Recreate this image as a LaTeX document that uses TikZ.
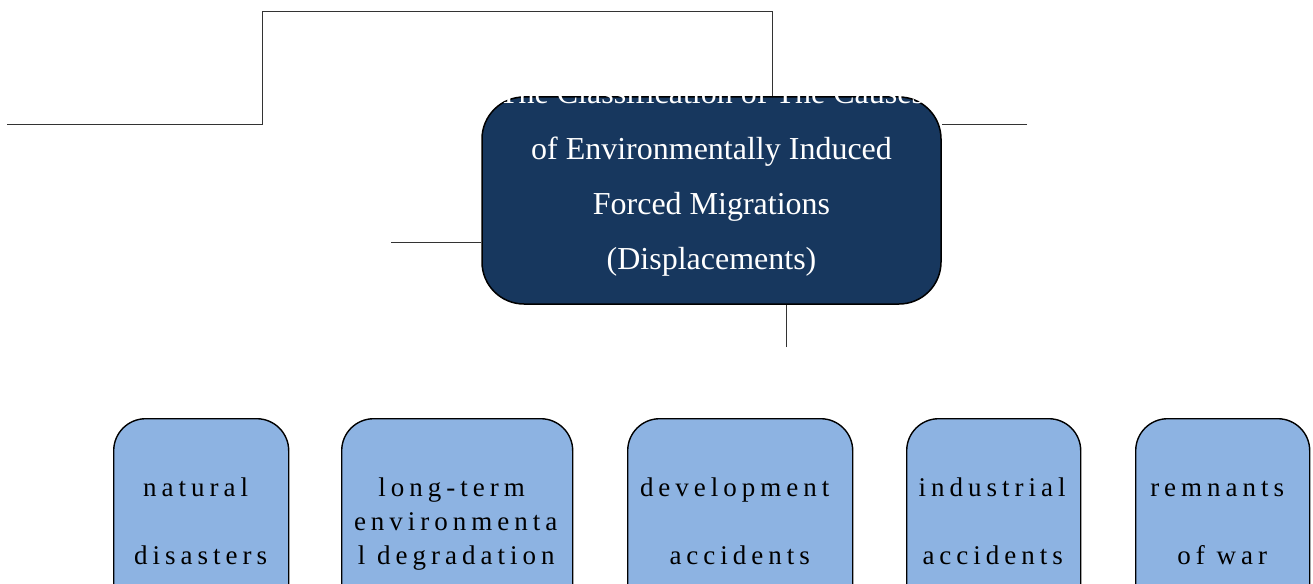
\documentclass[tikz,border=0pt]{standalone}
\usepackage{fontspec}
\setmainfont{Liberation Serif}
\newfontfamily\spacedfont[LetterSpace=18.5]{Liberation Serif}
\definecolor{navybox}{HTML}{17375E}
\definecolor{lightbox}{HTML}{8DB3E2}
\begin{document}
\begin{tikzpicture}[x=1pt,y=-1pt,
  conn/.style={draw=black!80,line width=0.9pt},
  mainbox/.style={draw=black,line width=1.5pt,fill=navybox,rounded corners=42pt,
    minimum width=459pt,minimum height=207pt,inner sep=0pt},
  catbox/.style={draw=black,line width=1.4pt,fill=lightbox,rounded corners=32pt,
    minimum height=230pt,inner sep=0pt,anchor=north west},
  maintext/.style={text=white,font=\fontsize{32}{38}\selectfont,anchor=base,inner sep=0pt},
  cattext/.style={text=black,font=\spacedfont\fontsize{27}{34}\selectfont,anchor=base,inner sep=0pt}]
\clip (0,0) rectangle (1313,583);
\fill[white] (0,0) rectangle (1313,583);

% main box
\node[mainbox] (main) at (711.5,200.5) {};

% connectors
\coordinate (c0) at (7,124);
\coordinate (c1) at (262,124);
\coordinate (c2) at (262,11);
\coordinate (c3) at (772,11);
\coordinate (r0) at (1027,124);
\coordinate (l0) at (391,242);
\coordinate (d0) at (786,347);
\draw[conn] (c0) -- (c1) -- (c2) -- (c3) -- (c3 |- main.north);
\draw[conn] (r0) -- (r0 -| main.east);
\draw[conn] (l0) -- (l0 -| main.west);
\draw[conn] (d0) -- (d0 |- main.south);

% main text
\node[maintext] (m1) at (711.5,104) {The Classification of The Causes};
\node[maintext] (m2) at (711.5,159) {of Environmentally Induced};
\node[maintext] (m3) at (711.5,214) {Forced Migrations};
\node[maintext] (m4) at (711.5,269) {(Displacements)};

% category boxes
\node[catbox,minimum width=175pt] (b1) at (113,418) {};
\node[catbox,minimum width=231pt] (b2) at (341,418) {};
\node[catbox,minimum width=225pt] (b3) at (627,418) {};
\node[catbox,minimum width=174pt] (b4) at (906,418) {};
\node[catbox,minimum width=174pt] (b5) at (1135,418) {};

\node[cattext] (t1a) at ([xshift=-5.5pt]b1.north |- 0,496) {natural};
\node[cattext] (t1b) at ([xshift=-0.5pt]b1.north |- 0,564) {disasters};
\node[cattext] (t2a) at ([xshift=-5.5pt]b2.north |- 0,496) {long-term};
\node[cattext] (t2b) at ([xshift=-1.5pt]b2.north |- 0,530) {environmenta};
\node[cattext] (t2c) at ([xshift=-1pt]b2.north |- 0,564) {l degradation};
\node[cattext] (t3a) at ([xshift=-5.5pt]b3.north |- 0,496) {development};
\node[cattext] (t3b) at ([xshift=-0.5pt]b3.north |- 0,564) {accidents};
\node[cattext] (t4a) at ([xshift=-1.5pt]b4.north |- 0,496) {industrial};
\node[cattext] (t4b) at ([xshift=-1pt]b4.north |- 0,564) {accidents};
\node[cattext] (t5a) at ([xshift=-5.5pt]b5.north |- 0,496) {remnants};
\node[cattext] (t5b) at ([xshift=-0.5pt]b5.north |- 0,564) {of war};
\end{tikzpicture}
\end{document}
